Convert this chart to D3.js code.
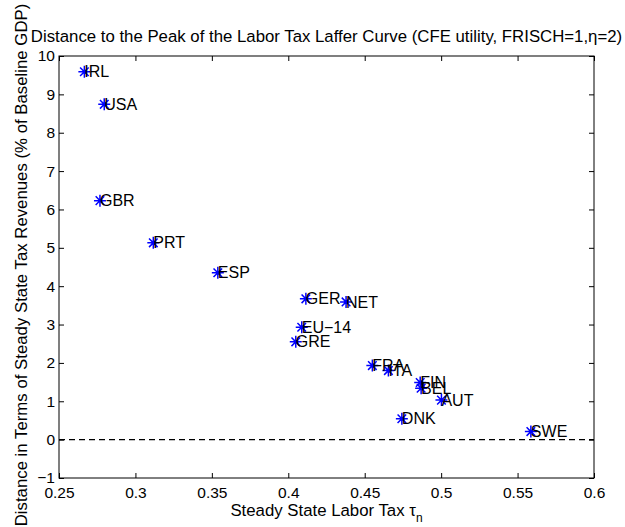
<!DOCTYPE html>
<html>
<head>
<meta charset="utf-8">
<script src="https://cdn.jsdelivr.net/npm/d3@7"></script>
<style>
  html, body { margin: 0; padding: 0; background: #fff; }
  svg { display: block; }
  text { font-family: "Liberation Sans", Arial, Helvetica, sans-serif; fill: #000; }
</style>
</head>
<body>
<svg id="chart" width="625" height="527"></svg>
<script>
// ---- data ----
const countries = ["IRL","USA","GBR","PRT","ESP","GER","NET","EU\u221214","GRE","FRA","ITA","FIN","BEL","AUT","DNK","SWE"];
const laborTax  = [0.2666,0.2796,0.2768,0.3117,0.3539,0.4115,0.4378,0.4088,0.4049,0.4550,0.4655,0.4863,0.4869,0.5002,0.4743,0.5587];
const distance  = [9.59,8.74,6.23,5.13,4.35,3.67,3.59,2.93,2.55,1.93,1.80,1.49,1.34,1.03,0.545,0.21];
const xTicks = [0.25,0.3,0.35,0.4,0.45,0.5,0.55,0.6];
const xTickLabels = ["0.25","0.3","0.35","0.4","0.45","0.5","0.55","0.6"];
const yTicks = [-1,0,1,2,3,4,5,6,7,8,9,10];
const yTickLabels = ["\u22121","0","1","2","3","4","5","6","7","8","9","10"];
const titleText = "Distance to the Peak of the Labor Tax Laffer Curve (CFE utility, FRISCH=1,\u03b7=2)";
const xLabelText = "Steady State Labor Tax ";
const yLabelText = "Distance in Terms of Steady State Tax Revenues (% of Baseline GDP)";

// ---- layout ----
const L = 59, R = 594, T = 56, B = 478;
const svg = d3.select("#chart");
const x = d3.scaleLinear().domain([0.25, 0.6]).range([L, R]);
const y = d3.scaleLinear().domain([-1, 10]).range([B, T]);
const tickLen = 5;
const fsTick = 15.5;
const fsLab = 16;
const fsBig = 16.8;

// axes (ticks inside)
const gx = svg.append("g").attr("transform", `translate(0,${B})`)
  .call(d3.axisBottom(x).tickValues(xTicks).tickFormat((d,i)=>xTickLabels[i]).tickSizeInner(-tickLen).tickSizeOuter(0).tickPadding(8.5));
const gxTop = svg.append("g").attr("transform", `translate(0,${T})`)
  .call(d3.axisTop(x).tickValues(xTicks).tickFormat("").tickSizeInner(-tickLen).tickSizeOuter(0));
const gy = svg.append("g").attr("transform", `translate(${L},0)`)
  .call(d3.axisLeft(y).tickValues(yTicks).tickFormat((d,i)=>yTickLabels[i]).tickSizeInner(-tickLen).tickSizeOuter(0).tickPadding(4));
const gyR = svg.append("g").attr("transform", `translate(${R},0)`)
  .call(d3.axisRight(y).tickValues(yTicks).tickFormat("").tickSizeInner(-tickLen).tickSizeOuter(0));
[gx,gxTop,gy,gyR].forEach(g => {
  g.select(".domain").remove();
  g.selectAll(".tick line").attr("stroke","#000").attr("stroke-width",1);
  g.selectAll("text").attr("font-size", fsTick).attr("font-family", "Liberation Sans, Arial, sans-serif").attr("fill","#000");
});
gx.selectAll(".tick text").attr("dy", "0.71em");

// box
svg.append("rect").attr("x", L).attr("y", T).attr("width", R-L).attr("height", B-T)
  .attr("fill","none").attr("stroke","#000").attr("stroke-width",1);

// zero dashed line
svg.append("line").attr("x1", x(0.25)).attr("x2", x(0.6)).attr("y1", y(0)).attr("y2", y(0))
  .attr("stroke","#000").attr("stroke-width",1.2).attr("stroke-dasharray","6,4");

// points as asterisks
const data = countries.map((c,i)=>({c, x: laborTax[i], y: distance[i]}));
const s = 6, d = 4.3;
const star = `M${-s},0L${s},0M0,${-s}L0,${s}M${-d},${-d}L${d},${d}M${-d},${d}L${d},${-d}`;
svg.append("g").selectAll("path").data(data).join("path")
  .attr("transform", p => `translate(${x(p.x)},${y(p.y)})`)
  .attr("d", star).attr("stroke", "#0000ff").attr("stroke-width", 1.5).attr("fill","none");
svg.append("g").selectAll("text").data(data).join("text")
  .attr("x", p => x(p.x)).attr("y", p => y(p.y)).attr("dy","0.35em")
  .attr("font-size", fsLab).text(p => p.c);

// title
svg.append("text").attr("x", (L+R)/2).attr("y", 42).attr("text-anchor","middle")
  .attr("font-size", fsBig).text(titleText);

// x label
const xl = svg.append("text").attr("x", (L+R)/2).attr("y", 516).attr("text-anchor","middle").attr("font-size", fsBig);
xl.append("tspan").text(xLabelText);
xl.append("tspan").text("\u03c4");
xl.append("tspan").attr("font-size", 12).attr("dy", 6).text("n");

// y label
svg.append("text").attr("transform", `translate(27,265) rotate(-90)`)
  .attr("text-anchor","middle").attr("font-size", fsBig).text(yLabelText);
</script>
</body>
</html>
